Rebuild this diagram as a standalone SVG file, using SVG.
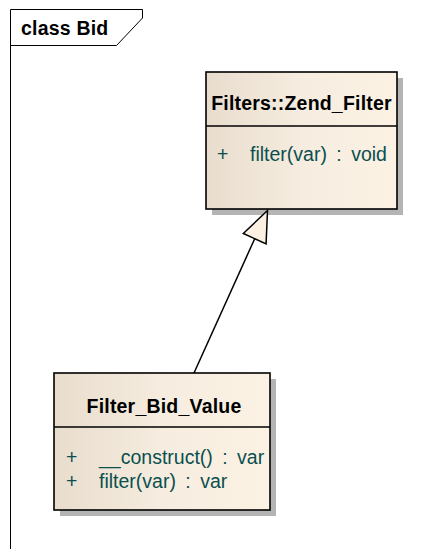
<svg xmlns="http://www.w3.org/2000/svg" width="431" height="549" viewBox="0 0 431 549">
<style>
.frame{fill:none;stroke:#000;stroke-width:1}
.box{stroke:#000;stroke-width:1.6;fill:url(#g)}
.shadow{fill:#b4b4b4}
.div{stroke:#000;stroke-width:1.4}
.title{font-family:"Liberation Sans",Arial,sans-serif;font-weight:bold;font-size:19.5px;letter-spacing:0.2px;fill:#000}
.m{font-family:"Liberation Sans",Arial,sans-serif;font-size:19.5px;fill:#0b4f4f;word-spacing:4px}
.edge{stroke:#000;stroke-width:1.5;fill:none}
.head{fill:#fbf0e1;stroke:#000;stroke-width:1.5;stroke-linejoin:miter}
</style>
<defs>
<linearGradient id="g" x1="0" y1="0" x2="1" y2="0">
<stop offset="0" stop-color="#e8ddcd"/>
<stop offset="0.5" stop-color="#f6ecdf"/>
<stop offset="1" stop-color="#fcf2e4"/>
</linearGradient>
</defs>
<rect width="431" height="549" fill="#fff"/>
<g id="frame">
<path class="frame" d="M10.5,549 V9.5 H142.5 V18 L116.5,45.5 H10.5"/>
<text class="title" x="21" y="35">class Bid</text>
</g>
<g id="zend_filter">
<rect class="shadow" x="212" y="78" width="191" height="137"/>
<rect class="box" x="206" y="72" width="191" height="137"/>
<line class="div" x1="206" y1="126" x2="397" y2="126"/>
<text class="title" x="301.5" y="110" text-anchor="middle">Filters::Zend_Filter</text>
<text class="m" x="217" y="161">+</text>
<text class="m" x="250" y="161">filter(var) : void</text>
</g>
<g id="filter_bid_value">
<rect class="shadow" x="60" y="379" width="216" height="137"/>
<rect class="box" x="54" y="373" width="216" height="137"/>
<line class="div" x1="54" y1="427" x2="270" y2="427"/>
<text class="title" x="164" y="413" text-anchor="middle">Filter_Bid_Value</text>
<text class="m" x="66" y="464">+</text>
<text class="m" x="99" y="464">__construct() : var</text>
<text class="m" x="66" y="488">+</text>
<text class="m" x="99" y="488">filter(var) : var</text>
</g>
<g id="connectors">
<line class="edge" x1="194" y1="373" x2="254.7" y2="238.7"/>
<polygon class="head" points="267.5,210.5 266.1,243.9 243.3,233.5"/>
</g>
</svg>
